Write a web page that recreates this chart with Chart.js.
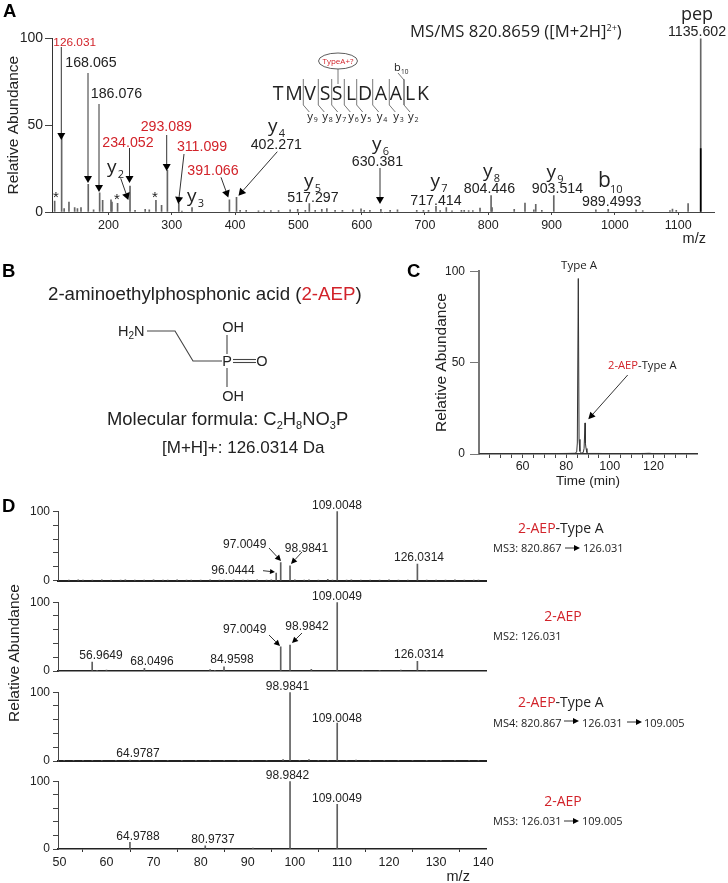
<!DOCTYPE html>
<html><head><meta charset="utf-8">
<script src="https://cdn.jsdelivr.net/npm/chart.js@4"></script>
<style>
html,body{margin:0;padding:0;background:#fff;overflow:hidden;width:728px;height:883px}
canvas{position:absolute}
#ov{position:absolute;left:0;top:0;z-index:5;pointer-events:none}
</style></head><body>
<div id="host"></div>
<svg id="ov" width="728" height="883" xmlns="http://www.w3.org/2000/svg"></svg>
<script>
// ---------- data ----------
const specMz  = [115,126.03,130,137.6,146.6,151,156.6,168.07,176.5,186.08,190.8,204,205.5,214.4,234.05,242,258,264.5,275,283.9,293.09,311.1,316,332,391.07,402.27,408,417.6,437,446,456.6,468.7,487,499,511,517.3,526.6,537,545,558,569.6,586,599,604,613,630.38,645,656.6,687,697.6,705.6,717.41,724,733.7,742.7,757.6,762,769,775.6,787,804.45,806,841,858,872,875,884.6,903.51,970,989.5,1033.5,1044,1087,1091,1097,1115.7,1135.6];
const specInt = [6.3,44,2,5.7,2.5,2,2.5,16,1.3,11,6.7,7,5.7,5,15,1,1.5,1.3,6.7,3.8,24,5,0.6,2.5,7,8.5,1,1,0.7,0.7,0.8,0.8,1.3,1.5,1,4.8,1,1.5,2,1,1,1.3,1.8,1,1,1.5,1,1.2,1,1,1,3.2,0.8,2.5,0.7,1,1,0.8,0.8,2.3,9.5,2.5,1.5,5.2,1.3,4.4,1,9.5,1.3,1.5,1.2,0.8,0.8,1.7,1,4.8,100];
const specDarkMz  = [1135.6];
const specDarkInt = [36.5];

const rtTime = [40,50,60,70,80,84,84.8,85.1,85.55,85.9,86.3,87,87.8,88.2,88.65,88.8,89.1,89.5,90,95,100,110,116,118,120,130,140];
const rtInt  = [0.2,0.2,0.2,0.2,0.3,0.4,1,6,96,8,1.5,0.4,0.8,3,17,6,3,0.8,0.3,0.3,0.2,0.2,0.3,0.4,0.2,0.2,0.2];

const d1Mz  = [52,54,55,57,59,61,63,64,66,68,70,72,73,75,77,78,80,82,84,85,87,89,90,92,94,95,96.04,97.0,98.98,100,102,103,105,107,108,109.0,111,112,114,116,118,120,122,124,126.03,128,130,132,134,136,138,139];
const d1Int = [1,1.5,1,1,1.5,1,1,1.5,1,1,1.5,1,1,1.5,1,1,1,1.5,1,1,1.5,1,1,1.5,1,1.5,11,26,21.5,1.5,1,1.5,1,2,1,100,1,1.5,1,1,1,1.5,1,1,24,1,1,1,1.5,1,1,1];
const d2Mz  = [56.96,58,60,68.05,82,83,84.96,97.0,98.98,103.5,109.0,114.4,118,122.5,126.03,128];
const d2Int = [13,1,1.5,4,2,1,6,35,37.5,2.5,100,1,1,1.5,14,1];
const d3Mz  = [51,53,55,57,59,62,64.98,67,70,73,76,79,82,85,88,91,94,97.5,98.98,101,103,105,107,109.0,111,113,116,119,122,125,128,131,134,137,139];
const d3Int = [1,1,1,1,1,1,1.5,1,1,1,1,1,1,1,1,1,1,2,100,1,2,1,1,55,1,1.5,1,1,1,1,1,1,1,1,1];
const d4Mz  = [64.98,80.97,91.1,98.98,109.0];
const d4Int = [10,4.5,1.5,100,66];

const yTicksSpec = [0,50,100];
const xLabelsRt  = [60,80,100,120];
const yLabelsD   = [0,100];

// ---------- charts ----------
Chart.defaults.font.family = "'Liberation Sans', Arial, sans-serif";
Chart.defaults.color = '#222';
Chart.defaults.animation = false;
Chart.defaults.responsive = false;
const pts = (xs, ys) => xs.map((x, i) => ({x, y: ys[i]}));

function mount(left, top, w, h, cfg){
  const c = document.createElement('canvas');
  c.width = w; c.height = h;
  c.style.left = left + 'px'; c.style.top = top + 'px';
  c.style.width = w + 'px'; c.style.height = h + 'px';
  document.getElementById('host').appendChild(c);
  return new Chart(c, cfg);
}
const fitW = n => s => { s.width = n; };
const fitH = n => s => { s.height = n; };

const barSet = (label, data, color) => ({label, data, backgroundColor: color, barThickness: 1, borderWidth: 0, grouped: false});
const common = {plugins: {legend: {display: false}, tooltip: {enabled: false}}, events: []};

// Panel A
mount(0, 28, 728, 220, {type: 'bar',
  data: {datasets: [barSet('Precursor', pts(specDarkMz, specDarkInt), '#000'), barSet('MS/MS', pts(specMz, specInt), '#666')]},
  options: {...common, layout: {padding: {top: 10, right: 14}},
    scales: {
      x: {type: 'linear', offset: false, min: 110.8, max: 1156.6,
        afterFit: fitH(36),
        afterBuildTicks: s => { s.ticks = [200,300,400,500,600,700,800,900,1000,1100].map(v => ({value: v})); },
        ticks: {font: {size: 12.5}, padding: 3, maxRotation: 0, autoSkip: false, callback: v => String(v)},
        grid: {drawOnChartArea: false, offset: false, tickLength: 3, tickColor: '#444'},
        border: {color: '#444', width: 1},
        title: {display: true, text: 'm/z\u00a0\u00a0', align: 'end', font: {size: 14.5}, padding: 0, color: '#222'}},
      y: {min: 0, max: 100, afterFit: fitW(52),
        afterBuildTicks: s => { s.ticks = yTicksSpec.map(v => ({value: v})); },
        ticks: {font: {size: 14}, padding: 2},
        grid: {drawOnChartArea: false, tickLength: 7, tickColor: '#444'},
        border: {color: '#333', width: 1},
        title: {display: true, text: 'Relative Abundance', font: {size: 15.5}, padding: {top: 4.5, bottom: 0}, color: '#222'}}
    }}});

// Panel C
mount(400, 259, 328, 235, {type: 'line',
  data: {datasets: [{label: 'Chromatogram', data: pts(rtTime, rtInt), borderColor: '#333', borderWidth: 1, pointRadius: 0, tension: 0, fill: false}]},
  options: {...common, layout: {padding: {top: 10, right: 31}},
    scales: {
      x: {type: 'linear', min: 40, max: 140, afterFit: fitH(40),
        afterBuildTicks: s => { const a = []; for (let v = 45; v < 140; v += 5) a.push({value: v}); s.ticks = a; },
        ticks: {font: {size: 12.5}, padding: 1, autoSkip: false, maxRotation: 0,
          callback: v => xLabelsRt.includes(v) ? String(v) : ''},
        grid: {drawOnChartArea: false, tickLength: 4, tickColor: '#444'},
        border: {color: '#333', width: 1.5},
        title: {display: true, text: 'Time (min)', font: {size: 13.5}, padding: {top: 0, bottom: 5}, color: '#222'}},
      y: {min: 0, max: 100, afterFit: fitW(79),
        afterBuildTicks: s => { s.ticks = yTicksSpec.map(v => ({value: v})); },
        ticks: {font: {size: 12}, padding: 5},
        grid: {drawOnChartArea: false, tickLength: 9, tickColor: '#777'},
        border: {color: '#777', width: 2},
        title: {display: true, text: 'Relative Abundance', font: {size: 15.5}, padding: {top: 32.7, bottom: 0}, color: '#222'}}
    }}});

// Panel D (four stacked spectra)
function dSpec(top, height, xH, mz, int, lastRow, axisW){
  return mount(0, top, 728, height, {type: 'bar',
    data: {datasets: [barSet('Spectrum', pts(mz, int), '#5f5f5f')]},
    options: {...common, layout: {padding: {top: 10, right: 242}},
      scales: {
        x: {type: 'linear', offset: false, min: 49.7, max: 140.6, afterFit: fitH(xH),
          afterBuildTicks: s => { const a = []; for (let v = 50; v <= 140; v += 10) a.push({value: v}); s.ticks = a; },
          ticks: {display: lastRow, font: {size: 12.5}, padding: 3, autoSkip: false, maxRotation: 0},
          grid: {drawOnChartArea: false, drawTicks: lastRow, tickLength: 3, tickColor: '#333'},
          border: {color: '#222', width: axisW},
          title: {display: lastRow, text: 'm/z\u00a0\u00a0\u00a0\u00a0', align: 'end', font: {size: 14.5}, padding: {top: 0, bottom: 3}, color: '#222'}},
        y: {min: 0, max: 100, afterFit: fitW(58),
          ticks: {stepSize: 20, font: {size: 12}, padding: 3, autoSkip: false,
            callback: v => yLabelsD.includes(v) ? String(v) : ''},
          grid: {drawOnChartArea: false, tickLength: 5, tickColor: '#444'},
          border: {color: '#444', width: 1}}
      }}});
}
dSpec(501, 90, 10, d1Mz, d1Int, false, 2);
dSpec(592, 90, 11, d2Mz, d2Int, false, 1.5);
dSpec(682, 90, 11, d3Mz, d3Int, false, 2);
dSpec(771, 118, 40, d4Mz, d4Int, true, 1.5);

// ---------- annotations, structure and panel text ----------
const NS = 'http://www.w3.org/2000/svg';
const ov = document.getElementById('ov');
const RED = '#d2232a', ARIAL = "'Liberation Sans', Arial, sans-serif", OPEN = "'Open Sans', sans-serif";
function el(name, attrs, html){
  const e = document.createElementNS(NS, name);
  for (const k in attrs) e.setAttribute(k, attrs[k]);
  if (html !== undefined) e.innerHTML = html;
  ov.appendChild(e); return e;
}
function t(x, y, html, size, o = {}){
  return el('text', {x, y, 'font-size': size, 'font-family': o.family || ARIAL, fill: o.fill || '#222',
    'text-anchor': o.anchor || 'start', 'font-weight': o.weight || 'normal'}, html);
}
function line(x1, y1, x2, y2, w = 1, c = '#333'){ el('line', {x1, y1, x2, y2, stroke: c, 'stroke-width': w}); }
function arrow(x1, y1, x2, y2, hl = 6, hw = 3.5, w = 1){
  const L = Math.hypot(x2 - x1, y2 - y1), ux = (x2 - x1) / L, uy = (y2 - y1) / L;
  const bx = x2 - ux * hl, by = y2 - uy * hl;
  line(x1, y1, bx, by, w, '#333');
  el('polygon', {points: `${x2},${y2} ${bx - uy * hw},${by + ux * hw} ${bx + uy * hw},${by - ux * hw}`, fill: '#000'});
}
const red = s => `<tspan fill="${RED}">${s}</tspan>`;
function ion(x, y, letter, sub, size = 19, subSize = 11){
  t(x, y, letter, size, {family: OPEN});
  t(x + size * 0.56, y + 5, sub, subSize, {family: OPEN});
}

// panel letters
[['A', 3, 17], ['B', 2, 277], ['C', 407, 277], ['D', 2, 512]].forEach(p => t(p[1], p[2], p[0], 18.5, {weight: 'bold', fill: '#000'}));

// Panel A labels
t(410, 37, 'MS/MS 820.8659 ([M+2H]<tspan font-size="9" dy="-6">2+</tspan><tspan dy="6">)</tspan>', 16.7, {family: OPEN});
t(697, 20, 'pep', 18, {family: OPEN, anchor: 'middle'});
t(697, 36, '1135.602', 14.2, {anchor: 'middle'});
t(74.7, 46, '126.031', 11.8, {anchor: 'middle', fill: RED});
t(91, 66.5, '168.065', 14.2, {anchor: 'middle'});
t(116.5, 97.5, '186.076', 14.2, {anchor: 'middle'});
t(128, 146.5, '234.052', 14.2, {anchor: 'middle', fill: RED});
t(166.3, 130.5, '293.089', 14.2, {anchor: 'middle', fill: RED});
t(202, 151, '311.099', 14.2, {anchor: 'middle', fill: RED});
t(213, 175, '391.066', 14.2, {anchor: 'middle', fill: RED});
t(276.3, 149, '402.271', 14.2, {anchor: 'middle'});
t(313, 201.5, '517.297', 14.2, {anchor: 'middle'});
t(377.5, 166, '630.381', 14.2, {anchor: 'middle'});
t(436, 204.5, '717.414', 14.2, {anchor: 'middle'});
t(489.5, 193, '804.446', 14.2, {anchor: 'middle'});
t(557.5, 193, '903.514', 14.2, {anchor: 'middle'});
t(611.7, 206, '989.4993', 14.2, {anchor: 'middle'});
ion(268, 131.5, 'y', '4'); ion(107, 173, 'y', '2'); ion(187, 201.5, 'y', '3'); ion(304, 186.5, 'y', '5');
ion(372, 150, 'y', '6'); ion(430.5, 187, 'y', '7'); ion(483, 176.5, 'y', '8'); ion(546.5, 177.5, 'y', '9');
t(598, 186.5, 'b', 21, {family: OPEN}); t(610, 193, '10', 11, {family: OPEN});
[[56, 202], [117, 204], [155, 202]].forEach(p => t(p[0], p[1], '*', 15, {anchor: 'middle'}));
arrow(61.3, 47, 61.3, 140, 7, 4);
arrow(88, 73, 88, 183, 7, 4);
arrow(99, 104, 99, 192, 7, 4);
arrow(129.5, 148, 129.5, 183, 7, 4);
arrow(166.7, 135, 166.7, 171, 7, 4);
arrow(184, 154, 178.3, 204, 7, 4);
arrow(221, 177.3, 228.3, 197.5, 7, 4);
arrow(277.3, 151.7, 238.5, 195.7, 7, 4);
arrow(120.7, 178.3, 128.3, 200, 7, 4);
arrow(380, 168, 380, 204, 7, 4);

// peptide sequence
const seqLetters = ['T','M','V','S','S','L','D','A','A','L','K'];
const seqX = [278,294,310,325,337,351,365,381,396,410,423];
seqLetters.forEach((c, i) => t(seqX[i], 100, c, 19.5, {family: OPEN, anchor: 'middle'}));
[[303.3,'9'],[318.3,'8'],[331.7,'7'],[344.3,'6'],[356.7,'5'],[372.7,'4'],[389.3,'3'],[404,'2']].forEach(b => {
  el('polyline', {points: `${b[0]},79 ${b[0]},105 ${b[0]+6},112`, fill: 'none', stroke: '#555', 'stroke-width': 0.8});
  t(b[0] + 4, 120, 'y', 11.5, {family: OPEN}); t(b[0] + 10.5, 122, b[1], 7, {family: OPEN});
});
el('ellipse', {cx: 338, cy: 61, rx: 19.5, ry: 8, fill: 'none', stroke: '#333', 'stroke-width': 0.8});
t(338, 64, 'TypeA+?', 8, {family: OPEN, fill: RED, anchor: 'middle'});
line(338, 69, 338, 84, 0.8, '#555');
t(394, 71, 'b', 11, {family: OPEN}); t(401, 74, '10', 6.5, {family: OPEN});
el('polyline', {points: '398,73 404,80 404,105', fill: 'none', stroke: '#555', 'stroke-width': 0.8});

// Panel B
t(48, 300, '2-aminoethylphosphonic acid (' + red('2-AEP') + ')', 18.7);
t(118, 336, 'H<tspan font-size="10" dy="3">2</tspan><tspan dy="-3">N</tspan>', 14.5);
el('polyline', {points: '147,331 175,331 193,361 222,361', fill: 'none', stroke: '#444', 'stroke-width': 1.1});
t(227, 366, 'P', 14.5, {anchor: 'middle'});
line(233, 359.5, 256, 359.5, 1.1, '#444'); line(233, 362.5, 256, 362.5, 1.1, '#444');
t(262, 366, 'O', 14.5, {anchor: 'middle'});
line(227, 335, 227, 354, 1.1, '#444'); line(227, 368, 227, 387, 1.1, '#444');
t(233, 332, 'OH', 14.5, {anchor: 'middle'});
t(233, 401, 'OH', 14.5, {anchor: 'middle'});
t(107, 425, 'Molecular formula: C<tspan font-size="11" dy="4">2</tspan><tspan dy="-4">H</tspan><tspan font-size="11" dy="4">8</tspan><tspan dy="-4">NO</tspan><tspan font-size="11" dy="4">3</tspan><tspan dy="-4">P</tspan>', 18.4);
t(162, 453, '[M+H]+: 126.0314 Da', 17);

// Panel C labels
t(579, 269, 'Type A', 11.5, {family: OPEN, anchor: 'middle'});
t(608, 369, red('2-AEP') + '-Type A', 11.2, {family: OPEN});
arrow(627.7, 375, 588.3, 419.3, 7, 3.5);

// Panel D labels
const dLabel = (cx, y, s) => t(cx, y, s, 12, {anchor: 'middle'});
dLabel(337, 509, '109.0048'); dLabel(244.7, 548, '97.0049'); dLabel(306.5, 552, '98.9841');
dLabel(233, 574, '96.0444'); dLabel(419, 561, '126.0314');
arrow(269, 548, 281, 561, 6, 3); arrow(302, 552, 291, 564, 6, 3); arrow(263, 570.7, 275, 572, 5, 2.5);
dLabel(337, 600, '109.0049'); dLabel(244.7, 633, '97.0049'); dLabel(307, 630, '98.9842');
dLabel(101, 659, '56.9649'); dLabel(152, 665, '68.0496'); dLabel(232, 663, '84.9598'); dLabel(419, 658, '126.0314');
arrow(269, 635, 280, 646, 6, 3); arrow(302, 633, 292, 643, 6, 3);
dLabel(287.5, 690, '98.9841'); dLabel(337, 722, '109.0048'); dLabel(138, 757, '64.9787');
dLabel(287.5, 779, '98.9842'); dLabel(337, 802, '109.0049'); dLabel(138, 840, '64.9788'); dLabel(213, 843, '80.9737');
el('text', {x: 0, y: 0, transform: 'translate(19,653) rotate(-90)', 'font-size': 15.5, 'font-family': ARIAL, fill: '#222', 'text-anchor': 'middle'}, 'Relative Abundance');

// right-hand captions
const cap = {family: OPEN};
t(518, 533, red('2-AEP') + '-Type A', 14, cap);
t(493, 552, 'MS3: 820.867', 11, cap); arrow(565, 548, 580, 548, 6, 3); t(583, 552, '126.031', 11, cap);
t(563, 621, red('2-AEP'), 14, {family: OPEN, anchor: 'middle'});
t(493, 640, 'MS2: 126.031', 11, cap);
t(518, 707, red('2-AEP') + '-Type A', 14, cap);
t(493, 727, 'MS4: 820.867', 11, cap); arrow(564, 721, 579, 721, 6, 3); t(582, 727, '126.031', 11, cap);
arrow(627, 722, 642, 722, 6, 3); t(644, 727, '109.005', 11, cap);
t(563, 806, red('2-AEP'), 14, {family: OPEN, anchor: 'middle'});
t(493, 825, 'MS3: 126.031', 11, cap); arrow(564, 821, 579, 821, 6, 3); t(582, 825, '109.005', 11, cap);
</script>
</body></html>
